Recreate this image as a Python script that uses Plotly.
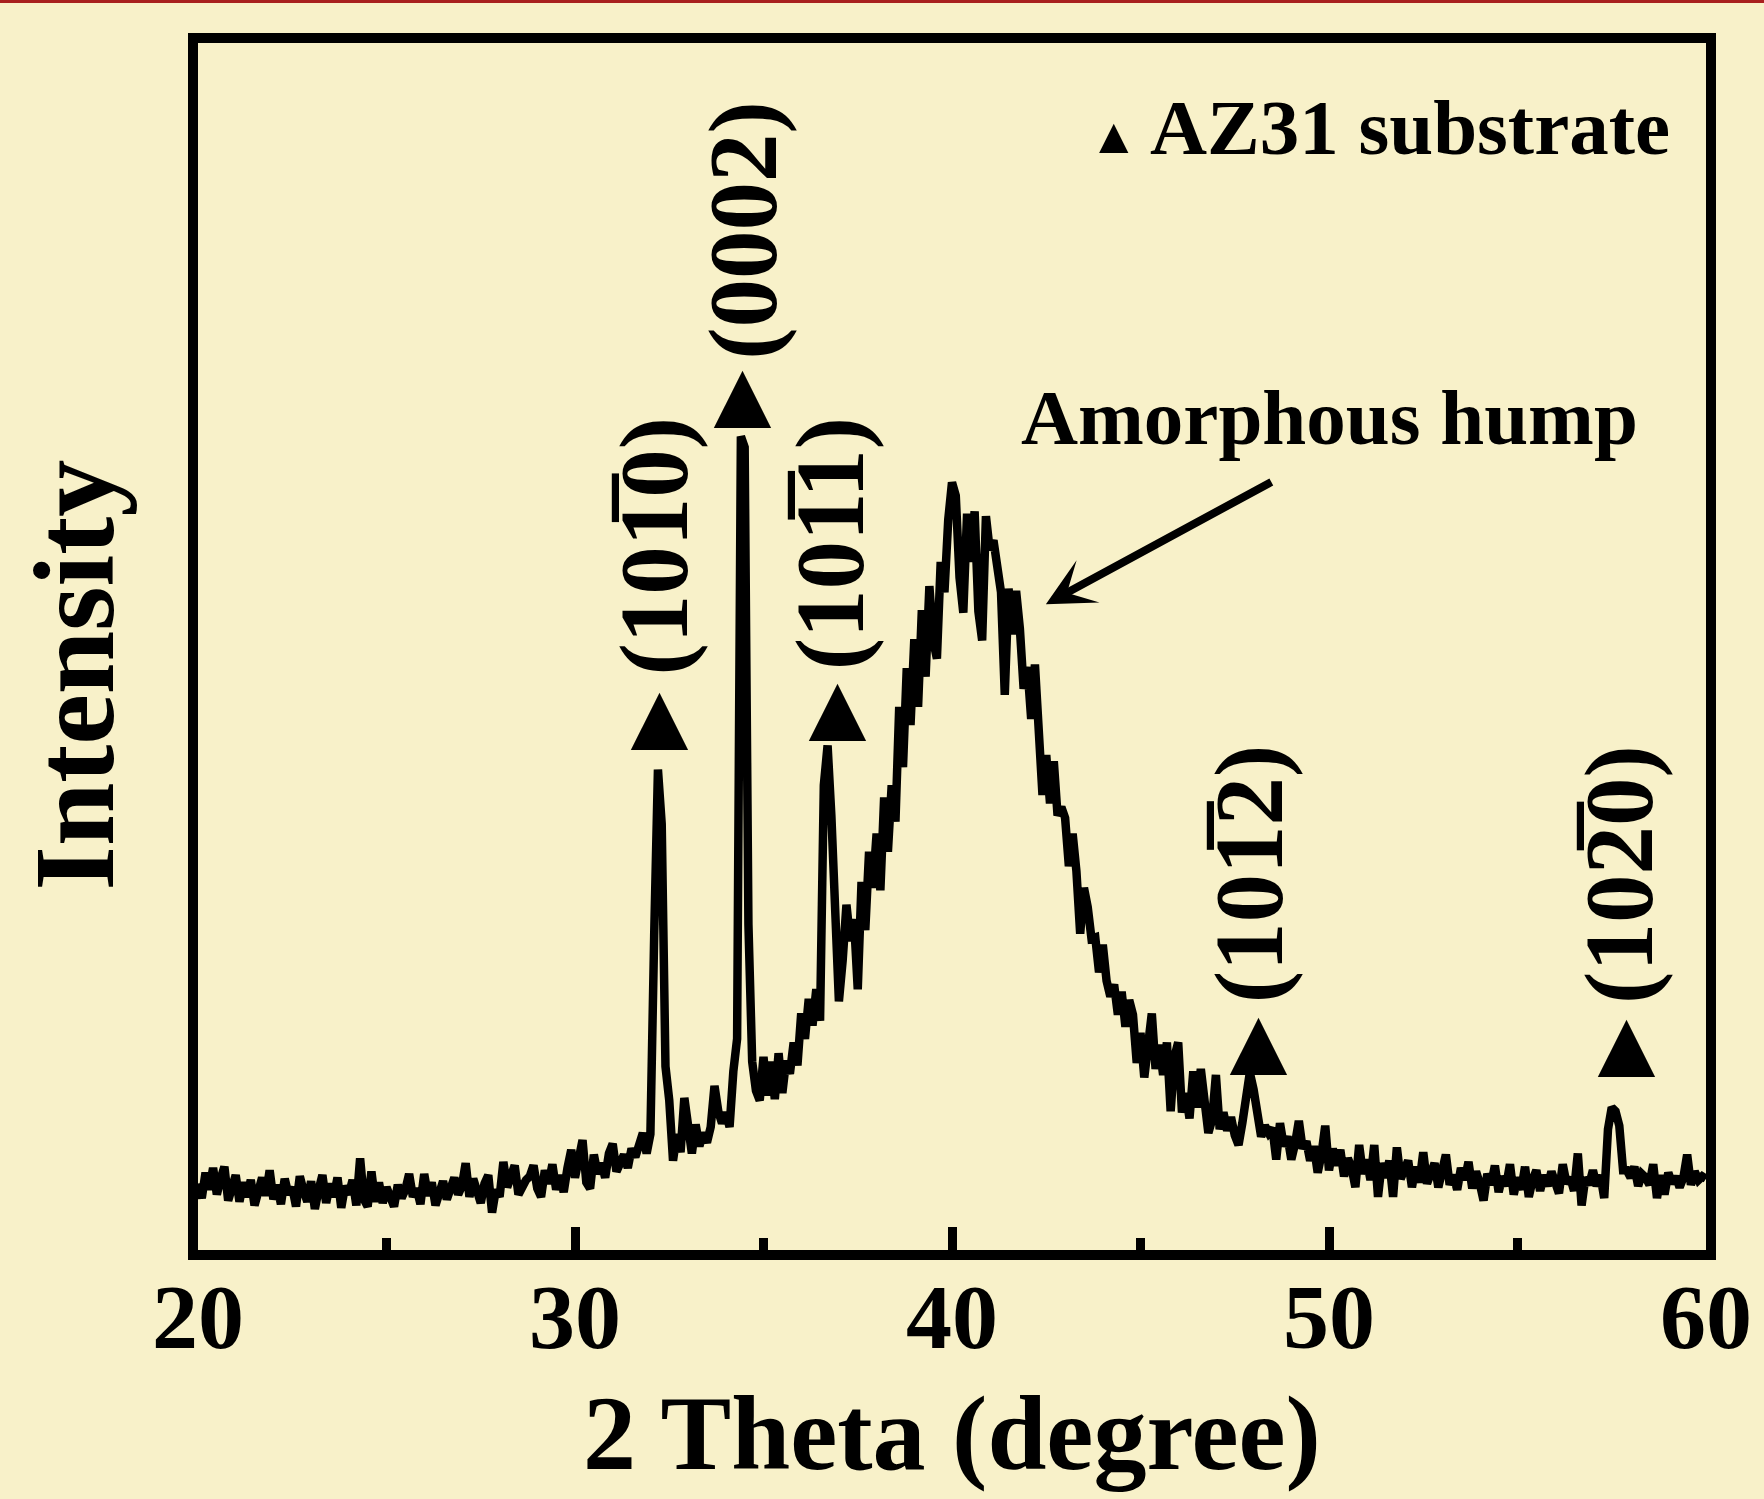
import numpy as np
import plotly.graph_objects as go

# ---------------- data ----------------
two_theta_start = 20.0
two_theta_end = 60.0

# intensity (arbitrary units, 0-100 of the plotted height), one row per degree, 0.1 deg step
intensity = [
    5.5, 4.3, 6.4, 5.0, 6.8, 4.6, 5.9, 6.9, 4.1, 5.3,        # 20
    6.2, 4.0, 5.6, 4.4, 5.8, 3.7, 5.1, 6.0, 4.5, 6.6,        # 21
    4.2, 5.4, 3.8, 5.9, 4.6, 5.2, 3.6, 6.1, 4.9, 4.0,        # 22
    5.7, 3.4, 5.0, 6.2, 3.9, 5.5, 4.4, 6.0, 3.5, 5.3,        # 23
    4.6, 5.8, 3.7, 7.6, 4.2, 3.6, 6.5, 4.0, 5.6, 3.9,        # 24
    5.2, 4.1, 3.6, 5.4, 4.3, 5.0, 6.3, 4.4, 5.1, 3.8,        # 25
    6.3, 4.5, 5.6, 3.7, 4.8, 5.7, 4.2, 5.0, 6.0, 4.6,        # 26
    5.3, 7.2, 4.4, 5.9, 4.8, 3.9, 5.5, 6.2, 3.1, 5.0,        # 27
    4.4, 7.3, 5.2, 6.0, 7.0, 4.6, 5.4, 5.8, 6.1, 7.0,        # 28
    5.1, 4.4, 6.6, 5.5, 7.1, 5.0, 6.2, 4.8, 6.8, 8.3,        # 29
    6.0, 7.4, 9.1, 5.6, 5.1, 7.9, 6.3, 7.2, 6.0, 8.0,        # 30
    8.8, 6.5, 7.4, 7.9, 6.8, 8.4, 7.7, 8.6, 9.7, 8.0,        # 31
    9.6, 26.0, 39.8, 35.3, 15.2, 12.4, 7.4, 9.6, 8.1, 12.6,  # 32
    9.8, 8.0, 10.4, 8.6, 9.7, 8.9, 10.2, 13.6, 11.5, 10.5,   # 33
    11.4, 10.2, 14.8, 17.5, 67.4, 66.5, 27.0, 15.6, 13.2, 12.4,  # 34
    16.0, 12.8, 15.6, 12.5, 16.3, 13.0, 15.7, 14.6, 17.2, 15.3,  # 35
    19.6, 17.5, 20.8, 18.6, 21.6, 19.0, 38.5, 41.8, 36.0, 27.5,  # 36
    20.6, 24.0, 28.6, 25.6, 27.4, 21.6, 30.5, 26.5, 33.0, 30.0,  # 37
    34.5, 29.8, 37.5, 33.0, 38.5, 35.5, 45.0, 40.0, 48.2, 43.5,  # 38
    50.6, 45.0, 53.0, 47.5, 55.0, 50.5, 49.0, 57.0, 54.5, 60.5,  # 39
    63.6, 62.5, 55.7, 52.8, 61.0, 57.0, 61.2, 52.9, 50.5, 60.8,  # 40
    58.0, 58.8, 55.8, 54.5, 46.0, 54.8, 51.0, 54.6, 51.5, 46.5,  # 41
    48.3, 44.0, 48.5, 42.5, 37.7, 41.0, 37.0, 40.5, 36.0, 36.7,  # 42
    35.8, 31.8, 34.5, 31.4, 26.2, 30.0, 28.4, 25.8, 25.9, 23.0,  # 43
    25.3, 22.3, 21.0, 22.0, 19.5, 21.4, 18.5, 20.7, 19.5, 15.5,  # 44
    18.0, 14.3, 17.8, 19.6, 15.0, 17.0, 14.5, 17.2, 11.5, 16.0,  # 45
    17.2, 11.4, 13.0, 10.9, 14.8, 11.8, 15.0, 11.5, 9.7, 10.8,   # 46
    14.5, 10.0, 11.4, 9.9, 11.0, 9.5, 8.7, 10.5, 13.4, 14.7,     # 47
    13.3, 11.2, 9.4, 10.3, 9.7, 10.1, 7.5, 10.5, 8.6, 9.4,       # 48
    7.5, 8.8, 10.7, 8.4, 9.0, 7.4, 8.6, 6.4, 7.9, 10.3,          # 49
    6.6, 8.4, 7.0, 8.3, 6.1, 7.6, 6.8, 5.2, 8.7, 6.3,            # 50
    7.5, 5.8, 8.7, 4.4, 7.2, 6.0, 7.4, 4.4, 8.5, 5.9,            # 51
    6.8, 7.4, 5.2, 6.9, 5.6, 8.1, 5.5, 6.6, 7.2, 5.2,            # 52
    6.5, 7.9, 5.4, 6.2, 5.0, 6.8, 5.8, 7.3, 5.1, 6.5,            # 53
    5.5, 4.1, 6.3, 5.4, 7.0, 4.8, 6.1, 5.3, 7.1, 4.6,            # 54
    6.0, 5.0, 6.9, 4.4, 5.8, 6.6, 4.9, 6.2, 5.3, 6.5,            # 55
    5.6, 4.7, 7.1, 5.5, 6.0, 4.9, 8.0, 3.7, 6.0, 5.4,            # 56
    6.6, 5.3, 6.2, 4.3, 10.0, 11.8, 11.5, 10.3, 6.6, 6.6,        # 57
    6.0, 6.9, 5.3, 6.3, 6.0, 5.4, 7.1, 4.3, 6.2, 4.6,            # 58
    6.4, 5.5, 6.1, 5.2, 6.0, 7.9, 5.4, 6.5, 5.8, 6.1,            # 59
    5.9,                                                          # 60
]
two_theta = np.round(np.linspace(two_theta_start, two_theta_end, len(intensity)), 2)

# peak annotations (Miller indices of the AZ31 substrate)
peak_labels = ["(101\u03050)", "(0002)", "(101\u03051)", "(101\u03052)", "(102\u03050)"]
peak_label_x = [32.1, 34.45, 36.8, 47.9, 57.7]
peak_label_y = [58.3, 84.5, 58.5, 31.2, 31.1]
peak_marker_x = [32.25, 34.45, 36.95, 48.12, 57.88]
peak_marker_y = [44.2, 70.8, 44.9, 17.2, 17.1]

x_tick_vals = [20, 30, 40, 50, 60]
x_tick_text = ["20", "30", "40", "50", "60"]

legend_text = "AZ31 substrate"
hump_text = "Amorphous hump"
x_title = "2 Theta (degree)"
y_title = "Intensity"

# ---------------- style ----------------
BG = "#F8F1C9"
FONT = "Liberation Serif"
W, H = 1764, 1499
ML, MR, MT, MB = 198, 46, 43, 249

fig = go.Figure()
fig.add_trace(go.Scatter(
    x=two_theta, y=intensity, mode="lines",
    line=dict(color="black", width=8.5),
    hoverinfo="skip", showlegend=False,
))

ann = []
for t, x, y in zip(peak_labels, peak_label_x, peak_label_y):
    ann.append(dict(x=x, y=y, xref="x", yref="y", text=t, showarrow=False,
                    textangle=-90, font=dict(family=FONT, size=97, color="black", weight="bold"),
                    xanchor="center", yanchor="middle"))
for x, y in zip(peak_marker_x, peak_marker_y):
    ann.append(dict(x=x, y=y, xref="x", yref="y", text="\u25B2", showarrow=False,
                    font=dict(family=FONT, size=98, color="black"),
                    xanchor="center", yanchor="middle"))

# legend-like note
ann.append(dict(x=44.3, y=92.3, xref="x", yref="y", text="\u25B2", showarrow=False,
                font=dict(family=FONT, size=50, color="black"), xanchor="center", yanchor="middle"))
ann.append(dict(x=45.2, y=93.0, xref="x", yref="y", text=legend_text, showarrow=False,
                font=dict(family=FONT, size=79, color="black", weight="bold"),
                xanchor="left", yanchor="middle"))

# amorphous hump label + arrow
ann.append(dict(x=50.0, y=69.0, xref="x", yref="y", text=hump_text, showarrow=False,
                font=dict(family=FONT, size=79, color="black", weight="bold"),
                xanchor="center", yanchor="middle"))
ann.append(dict(x=42.49, y=53.5, xref="x", yref="y", ax=48.51, ay=63.7, axref="x", ayref="y",
                text="", showarrow=True, arrowhead=3, arrowsize=1.0, arrowwidth=8,
                arrowcolor="black"))

# axis titles
ann.append(dict(x=0.5, y=-0.152, xref="paper", yref="paper", text=x_title, showarrow=False,
                font=dict(family=FONT, size=106, color="black", weight="bold"),
                xanchor="center", yanchor="middle"))
ann.append(dict(x=0, y=0.476, xref="paper", yref="paper", xshift=-124, text=y_title,
                showarrow=False, textangle=-90,
                font=dict(family=FONT, size=114, color="black", weight="bold"),
                xanchor="center", yanchor="middle"))

fig.update_layout(
    width=W, height=H,
    margin=dict(l=ML, r=MR, t=MT, b=MB, pad=0),
    paper_bgcolor=BG, plot_bgcolor=BG,
    font=dict(family=FONT, color="black", weight="bold"),
    annotations=ann,
    shapes=[dict(type="rect", xref="paper", yref="paper", x0=-0.2, x1=1.1,
                 y0=MT - 3, y1=MT + 2, ysizemode="pixel", yanchor=1,
                 fillcolor="#A8201E", line=dict(width=0))],
)

fig.update_xaxes(
    range=[20, 60], showgrid=False, zeroline=False,
    showline=True, linecolor="black", linewidth=10, mirror=True,
    ticks="inside", ticklen=23, tickwidth=9, tickcolor="black",
    tickvals=x_tick_vals, ticktext=x_tick_text,
    tickfont=dict(family=FONT, size=92, color="black", weight="bold"),
    ticklabelstandoff=-22, ticklabeloverflow="allow",
    minor=dict(ticks="inside", dtick=5, tick0=20, ticklen=12, tickwidth=9, tickcolor="black",
               showgrid=False),
)
fig.update_yaxes(
    range=[0, 100], showgrid=False, zeroline=False, showticklabels=False,
    showline=True, linecolor="black", linewidth=10, mirror=True, ticks="",
)

fig.write_html("out.html")
